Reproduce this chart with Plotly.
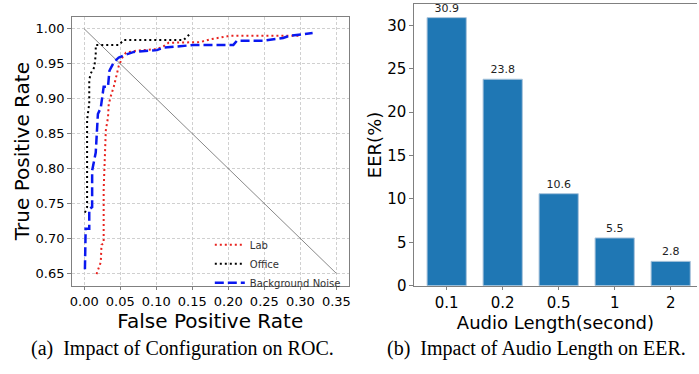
import plotly.graph_objects as go

# ---------------- data ----------------
lab_fpr = [0.017, 0.021, 0.023, 0.024, 0.027, 0.027, 0.028, 0.030, 0.033, 0.034, 0.037, 0.041,
           0.045, 0.048, 0.053, 0.058, 0.074, 0.101, 0.110, 0.117, 0.161, 0.175, 0.202, 0.301]
lab_tpr = [0.649, 0.660, 0.666, 0.691, 0.693, 0.770, 0.795, 0.855, 0.873, 0.892, 0.904, 0.917,
           0.934, 0.947, 0.959, 0.966, 0.969, 0.971, 0.975, 0.980, 0.981, 0.985, 0.990, 0.990]

office_fpr = [0.001, 0.004, 0.004, 0.005, 0.007, 0.007, 0.009, 0.014, 0.016, 0.016, 0.048,
              0.055, 0.138, 0.142, 0.146]
office_tpr = [0.737, 0.745, 0.870, 0.880, 0.893, 0.927, 0.936, 0.945, 0.963, 0.977, 0.977,
              0.984, 0.984, 0.988, 0.992]

noise_fpr = [0.001, 0.002, 0.007, 0.007, 0.011, 0.011, 0.016, 0.019, 0.023, 0.027, 0.033, 0.035,
             0.041, 0.048, 0.055, 0.069, 0.101, 0.110, 0.133, 0.152, 0.207, 0.212, 0.248, 0.276,
             0.285, 0.317]
noise_tpr = [0.656, 0.714, 0.714, 0.742, 0.745, 0.797, 0.823, 0.878, 0.887, 0.917, 0.917, 0.940,
             0.952, 0.959, 0.962, 0.967, 0.9695, 0.973, 0.975, 0.977, 0.977, 0.983, 0.983, 0.987,
             0.990, 0.994]

diag_x = [0.0, 0.35]
diag_y = [1.0, 0.65]

audio_len = ["0.1", "0.2", "0.5", "1", "2"]
eer = [30.9, 23.8, 10.6, 5.5, 2.8]

roc_xticks = [0.00, 0.05, 0.10, 0.15, 0.20, 0.25, 0.30, 0.35]
roc_yticks = [0.65, 0.70, 0.75, 0.80, 0.85, 0.90, 0.95, 1.00]
eer_yticks = [0, 5, 10, 15, 20, 25, 30]

# ---------------- figure ----------------
W, H = 699, 374
SANS = "DejaVu Sans"
SERIF = "Liberation Serif"
SPINE = "#808080"

fig = go.Figure()

fig.add_trace(go.Scatter(x=diag_x, y=diag_y, mode="lines", showlegend=False,
                         line=dict(color="#555555", width=0.7), xaxis="x", yaxis="y"))
fig.add_trace(go.Scatter(x=lab_fpr, y=lab_tpr, mode="lines", name="Lab",
                         line=dict(color="#e8231f", width=2, dash="2px,3px"), xaxis="x", yaxis="y"))
fig.add_trace(go.Scatter(x=office_fpr, y=office_tpr, mode="lines", name="Office",
                         line=dict(color="black", width=2, dash="2px,3px"), xaxis="x", yaxis="y"))
fig.add_trace(go.Scatter(x=noise_fpr, y=noise_tpr, mode="lines", name="Background Noise",
                         line=dict(color="#0a18f0", width=2.5, dash="9px,4px"), xaxis="x", yaxis="y"))

fig.add_trace(go.Bar(x=audio_len, y=eer, width=0.7, showlegend=False,
                     marker=dict(color="#1f77b4", line=dict(color="#a9c4dc", width=1)),
                     text=[f"{v:.1f}" for v in eer], textposition="outside", cliponaxis=False,
                     textfont=dict(family=SANS, size=11, color="#222222"),
                     xaxis="x2", yaxis="y2"))

py0 = 1 - 292.7 / H
fig.update_layout(
    width=W, height=H,
    margin=dict(l=0, r=0, t=0, b=0),
    paper_bgcolor="white", plot_bgcolor="white",
    font=dict(family=SANS, color="black"),
    showlegend=True,
    legend=dict(x=209 / W, y=1 - 236 / H, xanchor="left", yanchor="top",
                xref="paper", yref="paper",
                bgcolor="rgba(255,255,255,0)", borderwidth=0,
                font=dict(family=SANS, size=10, color="#333333"),
                itemwidth=30, tracegroupgap=0),
    xaxis=dict(domain=[70 / W, 349 / W], range=[-0.0175, 0.3675],
               tickvals=roc_xticks, tickformat=".2f",
               tickfont=dict(size=13), ticks="outside", ticklen=3.5, tickcolor=SPINE,
               showline=True, linecolor=SPINE, linewidth=1, mirror=True,
               showgrid=True, gridcolor="#d0d0d0", griddash="3px,2px", gridwidth=0.8,
               zeroline=False,
               title=dict(text="False Positive Rate", font=dict(size=20), standoff=3),
               anchor="y"),
    yaxis=dict(domain=[py0, 1 - 17 / H], range=[0.6325, 1.0175],
               tickvals=roc_yticks, tickformat=".2f",
               tickfont=dict(size=13), ticks="outside", ticklen=3.5, tickcolor=SPINE,
               showline=True, linecolor=SPINE, linewidth=1, mirror=True,
               showgrid=True, gridcolor="#d0d0d0", griddash="3px,2px", gridwidth=0.8,
               zeroline=False,
               title=dict(text="True Positive Rate", font=dict(size=20), standoff=0),
               anchor="x"),
    xaxis2=dict(domain=[414.3 / W, 1.0], range=[-0.585, 4.47], type="category",
                tickfont=dict(size=15), ticks="outside", ticklen=3.5, tickcolor=SPINE,
                showline=True, linecolor=SPINE, linewidth=1, mirror=True,
                showgrid=False, zeroline=False,
                title=dict(text="Audio Length(second)", font=dict(size=18), standoff=2),
                anchor="y2"),
    yaxis2=dict(domain=[py0, 1 - 4.3 / H], range=[0, 32.45],
                tickvals=eer_yticks,
                tickfont=dict(size=15), ticks="outside", ticklen=3.5, tickcolor=SPINE,
                showline=True, linecolor=SPINE, linewidth=1, mirror=False,
                showgrid=False, zeroline=False,
                title=dict(text="EER(%)", font=dict(size=18), standoff=1),
                anchor="x2"),
    annotations=[
        dict(text="(a)  Impact of Configuration on ROC.", x=182 / W, y=1 - 357 / H,
             xref="paper", yref="paper", showarrow=False, xanchor="center", yanchor="middle",
             font=dict(family=SERIF, size=20, color="black")),
        dict(text="(b)  Impact of Audio Length on EER.", x=538 / W, y=1 - 357 / H,
             xref="paper", yref="paper", showarrow=False, xanchor="center", yanchor="middle",
             font=dict(family=SERIF, size=20, color="black")),
    ],
)

fig.write_html("out.html")
